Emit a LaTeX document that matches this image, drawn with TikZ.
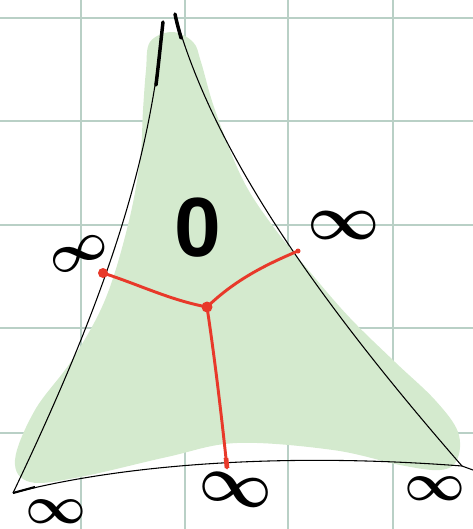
\documentclass[tikz,border=0pt]{standalone}
\usepackage{amsmath,bm}
\usepackage{fontspec}
\newfontfamily\zerofont{Liberation Sans}
\begin{document}
\begin{tikzpicture}[x=0.75pt,y=-0.75pt,
  gridline/.style={draw=gridc,line width=0.9pt},
  side/.style={draw=black,line width=0.8pt},
  sidethick/.style={draw=black,line width=2.6pt,line cap=round},
  tree/.style={draw=redc,line width=2.2pt,line cap=round},
  lab/.style={inner sep=0pt}]
\definecolor{gridc}{HTML}{B9D0C6}
\definecolor{greenc}{HTML}{D4EACE}
\definecolor{redc}{HTML}{E8392A}
\useasboundingbox (0,0) rectangle (473,529);
% grid
\foreach \x in {81,185,288,393} \draw[gridline] (\x,0) -- (\x,529);
\foreach \y in {18,121,225,328,433} \draw[gridline] (0,\y) -- (473,\y);
% green blob
\fill[greenc] plot[smooth cycle,tension=0.6] coordinates {
 (146,70) (150,42) (172,32) (193,42) (201,62) (215,110) (242,178) (272,225)
 (310,272) (350,318) (395,362) (435,400) (458,432) (457,460) (440,470)
 (400,465) (333,450) (237,443) (167,457) (80,477) (30,482) (15,460)
 (35,410) (72,360) (105,300) (128,225) (140,160) (143,110)};
% triangle sides
\coordinate (T1) at (163,22);
\coordinate (T2) at (175,14);
\coordinate (BL) at (13,493);
\coordinate (BR) at (462,466);
\coordinate (BE) at (473,470);
\draw[side] (T1) .. controls (150,160) and (110,290) .. (BL);
\draw[sidethick] (T1) .. controls (161,40) and (159,60) .. (156,85);
\draw[side] (T2) .. controls (210,140) and (300,280) .. (BR);
\draw[sidethick] (T2) .. controls (177,24) and (179,30) .. (181,38);
\draw[side] (BL) .. controls (120,465) and (280,452) .. (BR) -- (BE);
\draw[line width=1.6pt] (BL) -- (35,487);
% red tree
\coordinate (C) at (207,307);
\coordinate (L) at (103,273);
\coordinate (R) at (298,251);
\coordinate (B) at (227,468);
\draw[tree] (L) .. controls (140,285) and (170,300) .. (C);
\draw[tree] (C) .. controls (235,280) and (265,265) .. (R);
\draw[tree] (C) .. controls (215,360) and (222,420) .. (B);
\fill[redc] (L) circle (5);
\fill[redc] (C) circle (5.5);
\fill[redc] (R) circle (2.5);
\draw[redc,line width=3.5pt] (226,458) -- (B);
% labels
\node[lab,rotate=25,scale=1.6] (i1) at (79,254) {\fontsize{46}{46}\selectfont$\bm{\infty}$};
\node[lab,scale=1.9] (i2) at (344,225) {\fontsize{46}{46}\selectfont$\bm{\infty}$};
\node[lab,rotate=-10,scale=1.95] (i3) at (236,490) {\fontsize{46}{46}\selectfont$\bm{\infty}$};
\node[lab,scale=1.6] (i4) at (435,489) {\fontsize{46}{46}\selectfont$\bm{\infty}$};
\node[lab,scale=1.6] (i5) at (56,512) {\fontsize{46}{46}\selectfont$\bm{\infty}$};
\node[lab,font=\fontsize{63}{63}\selectfont\zerofont\bfseries] (z) at (198,228) {0};
\end{tikzpicture}
\end{document}
